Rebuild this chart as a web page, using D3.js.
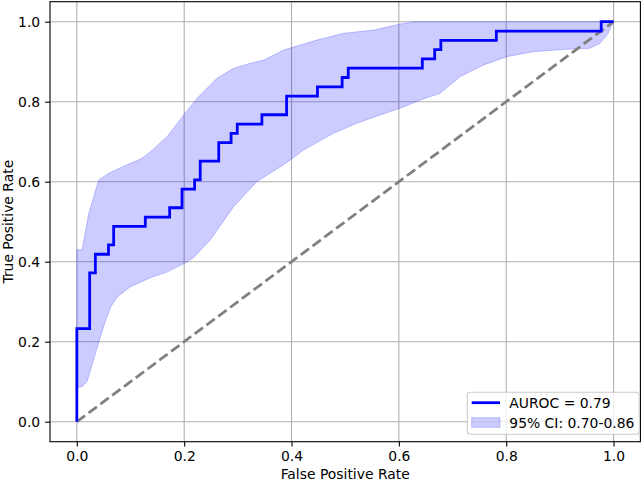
<!DOCTYPE html>
<html><head><meta charset="utf-8">
<script src="https://cdn.jsdelivr.net/npm/d3@7"></script>
<style>body{margin:0;background:#fff}svg{display:block;font-family:"DejaVu Sans",sans-serif}</style>
</head><body><svg id="c" width="642" height="481"></svg>
<script>
// ROC step curve (FPR, TPR)
const rocFpr = [0,0,0.0239,0.0239,0.0345,0.0345,0.059,0.059,0.0686,0.0686,0.1276,0.1276,0.1729,0.1729,0.196,0.196,0.2194,0.2194,0.2299,0.2299,0.2644,0.2644,0.2874,0.2874,0.2989,0.2989,0.3448,0.3448,0.3908,0.3908,0.4483,0.4483,0.4943,0.4943,0.5057,0.5057,0.6437,0.6437,0.6667,0.6667,0.6782,0.6782,0.7816,0.7816,0.977,0.977,1.0];
const rocTpr = [0,0.2326,0.2326,0.3721,0.3721,0.4186,0.4186,0.4419,0.4419,0.4884,0.4884,0.5116,0.5116,0.5349,0.5349,0.5814,0.5814,0.6047,0.6047,0.6512,0.6512,0.6977,0.6977,0.7209,0.7209,0.7442,0.7442,0.7674,0.7674,0.814,0.814,0.8372,0.8372,0.8605,0.8605,0.8837,0.8837,0.907,0.907,0.9302,0.9302,0.9535,0.9535,0.9767,0.9767,1.0,1.0];
// CI band
const ciUpperFpr = [0,0.0097,0.022,0.0406,0.059,0.0996,0.121,0.137,0.168,0.199,0.224,0.261,0.292,0.323,0.348,0.385,0.447,0.497,0.553,0.602,0.63,1.0];
const ciUpperTpr = [0.43,0.43,0.52,0.604,0.621,0.646,0.658,0.675,0.7125,0.767,0.8085,0.8585,0.8835,0.896,0.904,0.929,0.954,0.971,0.979,0.994,1.0,1.0];
const ciLowerFpr = [0,0.0097,0.019,0.031,0.044,0.054,0.0633,0.0758,0.1,0.137,0.168,0.199,0.2175,0.2486,0.292,0.3356,0.354,0.385,0.4223,0.4782,0.522,0.5652,0.602,0.64,0.677,0.714,0.758,0.801,0.851,0.913,0.956,0.975,0.99,1.0];
const ciLowerTpr = [0.085,0.0875,0.1,0.154,0.2125,0.254,0.2875,0.3125,0.3375,0.3600,0.374,0.395,0.410,0.4543,0.5375,0.600,0.616,0.642,0.679,0.721,0.746,0.767,0.7835,0.804,0.821,0.8625,0.892,0.9125,0.925,0.931,0.9335,0.946,0.971,1.0];
const xTicks = [0,0.2,0.4,0.6,0.8,1.0];
const yTicks = [0,0.2,0.4,0.6,0.8,1.0];
const legendLabels = ["AUROC = 0.79","95% CI: 0.70-0.86"];

const svg = d3.select("#c");
const L=50, R=640.4, T=1.7, B=441.7;
const x = d3.scaleLinear().domain([-0.05,1.05]).range([L,R]);
const y = d3.scaleLinear().domain([-0.05,1.05]).range([B,T]);

// grid
const g = svg.append("g");
g.selectAll(".gx").data(xTicks).join("line").attr("x1",d=>x(d)).attr("x2",d=>x(d)).attr("y1",T).attr("y2",B).attr("stroke","#b0b0b0").attr("stroke-width",1.1);
g.selectAll(".gy").data(yTicks).join("line").attr("y1",d=>y(d)).attr("y2",d=>y(d)).attr("x1",L).attr("x2",R).attr("stroke","#b0b0b0").attr("stroke-width",1.1);

// band
const upper = ciUpperFpr.map((f,i)=>[f,ciUpperTpr[i]]);
const lower = ciLowerFpr.map((f,i)=>[f,ciLowerTpr[i]]);
const poly = upper.concat(lower.slice().reverse());
svg.append("path").attr("d",d3.line().x(d=>x(d[0])).y(d=>y(d[1])).curve(d3.curveLinearClosed)(poly))
  .attr("fill","rgba(0,0,255,0.2)").attr("stroke","rgba(0,0,255,0.2)").attr("stroke-width",1);

// diagonal
svg.append("line").attr("x1",x(0)).attr("y1",y(0)).attr("x2",x(1)).attr("y2",y(1))
  .attr("stroke","#808080").attr("stroke-width",2.78).attr("stroke-dasharray","10.3,4.4");

// roc
const roc = rocFpr.map((f,i)=>[f,rocTpr[i]]);
svg.append("path").attr("d",d3.line().x(d=>x(d[0])).y(d=>y(d[1]))(roc))
  .attr("fill","none").attr("stroke","#0000ff").attr("stroke-width",2.78).attr("stroke-linejoin","miter").attr("stroke-linecap","butt");

// spines
svg.append("rect").attr("x",L).attr("y",T).attr("width",R-L).attr("height",B-T).attr("fill","none").attr("stroke","#000").attr("stroke-width",1.1);

// axes
const xa = svg.append("g").attr("transform",`translate(0,${B})`).call(d3.axisBottom(x).tickValues(xTicks).tickFormat(d3.format(".1f")).tickSize(4.9).tickPadding(4.9));
const ya = svg.append("g").attr("transform",`translate(${L},0)`).call(d3.axisLeft(y).tickValues(yTicks).tickFormat(d3.format(".1f")).tickSize(4.9).tickPadding(4.9));
[xa,ya].forEach(a=>{a.select(".domain").remove();a.selectAll("line").attr("stroke","#000").attr("stroke-width",1.1);a.selectAll("text").attr("font-size",13.9).attr("font-family","DejaVu Sans").attr("fill","#000");});

svg.append("text").attr("x",(L+R)/2).attr("y",479).attr("text-anchor","middle").attr("font-size",13.9).text("False Positive Rate");
svg.append("text").attr("transform",`translate(12.7,${(T+B)/2}) rotate(-90)`).attr("text-anchor","middle").attr("font-size",13.9).text("True Positive Rate");

// legend
const lg = svg.append("g");
lg.append("rect").attr("x",467.3).attr("y",392.3).attr("width",172).attr("height",42).attr("rx",3).attr("fill","rgba(255,255,255,0.8)").attr("stroke","#cccccc").attr("stroke-width",1.1);
lg.append("line").attr("x1",471.7).attr("x2",500).attr("y1",402.7).attr("y2",402.7).attr("stroke","#0000ff").attr("stroke-width",2.78);
lg.append("rect").attr("x",471.7).attr("y",417.7).attr("width",28.3).attr("height",9.6).attr("fill","rgba(0,0,255,0.2)").attr("stroke","rgba(0,0,255,0.2)").attr("stroke-width",1);
lg.selectAll(".lt").data(legendLabels).join("text").attr("x",509.3).attr("y",(d,i)=>i?422.5:402.7).attr("dominant-baseline","central").attr("font-size",13.9).text(d=>d);
</script></body></html>
